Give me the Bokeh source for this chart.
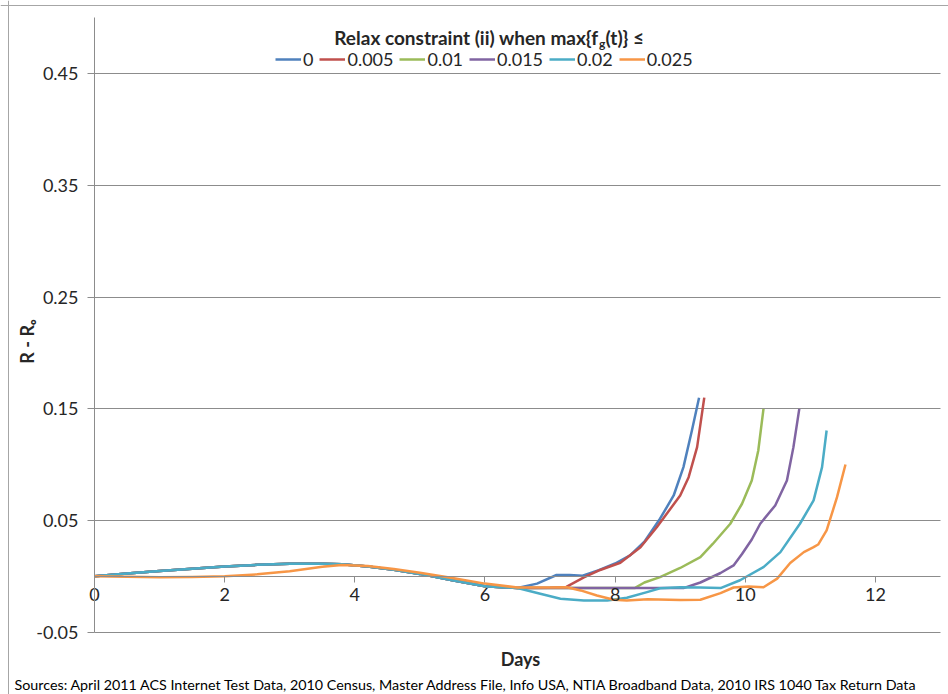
import math
from bokeh.plotting import figure
from bokeh.models import (Range1d, FixedTicker, Legend, LegendItem, Label, LinearAxis, Grid, Span)
from bokeh.embed import file_html
from bokeh.resources import INLINE

# ---- data ----
series_labels = ["0", "0.005", "0.01", "0.015", "0.02", "0.025"]
series_colors = ["#4F81BD", "#C0504D", "#9BBB59", "#8064A2", "#4BACC6", "#F79646"]

x_ticks = [0, 2, 4, 6, 8, 10, 12]
y_ticks = [-0.05, 0.05, 0.15, 0.25, 0.35, 0.45]
y_tick_labels = {-0.05: "-0.05", 0.05: "0.05", 0.15: "0.15", 0.25: "0.25", 0.35: "0.35", 0.45: "0.45"}

days_0 = [0, 0.5, 1, 1.5, 2, 2.5, 3, 3.5, 3.8, 4.2, 4.6, 5, 5.5, 6, 6.5, 6.8, 7.1, 7.3, 7.5, 7.75, 8.0,
          8.23, 8.45, 8.69, 8.9, 9.05, 9.18, 9.29]
r_0 = [0, 0.0025, 0.0048, 0.0068, 0.0088, 0.0103, 0.0113, 0.0113, 0.0108, 0.0088, 0.0058, 0.0022, -0.0035,
       -0.0088, -0.0105, -0.0065, 0.0012, 0.0012, 0.0005, 0.0055, 0.0115, 0.0187, 0.031, 0.0516, 0.0724,
       0.0978, 0.1306, 0.160]

days_005 = [0, 0.5, 1, 1.5, 2, 2.5, 3, 3.5, 3.8, 4.2, 4.6, 5, 5.5, 6, 6.5, 7.0, 7.25, 7.52, 7.77, 8.08,
            8.39, 8.64, 8.85, 9.0, 9.13, 9.26, 9.37]
r_005 = [0, 0.0025, 0.0048, 0.0068, 0.0088, 0.0103, 0.0113, 0.0113, 0.0108, 0.0088, 0.0058, 0.0022, -0.0035,
         -0.0088, -0.0105, -0.0102, -0.0095, -0.0010, 0.0057, 0.0122, 0.026, 0.044, 0.0605, 0.0724, 0.0888,
         0.1157, 0.160]

days_01 = [0, 0.5, 1, 1.5, 2, 2.5, 3, 3.5, 3.8, 4.2, 4.6, 5, 5.5, 6, 6.5, 7.5, 8.3, 8.45, 8.69, 9.0, 9.31,
           9.5, 9.62, 9.77, 9.95, 10.1, 10.2, 10.28]
r_01 = [0, 0.0025, 0.0048, 0.0068, 0.0088, 0.0103, 0.0113, 0.0113, 0.0108, 0.0088, 0.0058, 0.0022, -0.0035,
        -0.0088, -0.0105, -0.0105, -0.0105, -0.0055, -0.0007, 0.0075, 0.0172, 0.029, 0.037, 0.0471, 0.065,
        0.0859, 0.1127, 0.150]

days_015 = [0, 0.5, 1, 1.5, 2, 2.5, 3, 3.5, 3.8, 4.2, 4.6, 5, 5.5, 6, 6.5, 7.5, 9.05, 9.31, 9.62, 9.82,
            9.95, 10.1, 10.23, 10.46, 10.64, 10.74, 10.83]
r_015 = [0, 0.0025, 0.0048, 0.0068, 0.0088, 0.0103, 0.0113, 0.0113, 0.0108, 0.0088, 0.0058, 0.0022, -0.0035,
         -0.0088, -0.0105, -0.0105, -0.0105, -0.0055, 0.003, 0.0098, 0.020, 0.033, 0.0471, 0.0635, 0.0859,
         0.1157, 0.150]

days_02 = [0, 0.5, 1, 1.5, 2, 2.5, 3, 3.5, 3.8, 4.2, 4.6, 5, 5.5, 6, 6.5, 6.85, 7.16, 7.52, 7.88, 8.18,
           8.49, 8.69, 9.0, 9.3, 9.62, 9.92, 10.28, 10.54, 10.84, 11.05, 11.18, 11.25]
r_02 = [0, 0.0025, 0.0048, 0.0068, 0.0088, 0.0103, 0.0113, 0.0113, 0.0108, 0.0088, 0.0058, 0.0022, -0.0035,
        -0.0088, -0.0105, -0.0156, -0.0201, -0.0216, -0.0216, -0.0192, -0.0141, -0.0106, -0.0097, -0.0100,
        -0.0105, -0.0035, 0.0083, 0.0217, 0.0471, 0.068, 0.0978, 0.1306]

days_025 = [0, 0.5, 1, 1.5, 2, 2.5, 3, 3.5, 3.8, 4.2, 4.6, 5, 5.5, 6, 6.5, 7.0, 7.26, 7.47, 7.72, 7.98,
            8.18, 8.5, 9.0, 9.31, 9.62, 9.82, 10.05, 10.28, 10.49, 10.69, 10.9, 11.05, 11.12, 11.25, 11.41, 11.54]
r_025 = [0, -0.0004, -0.0007, -0.0005, 0.0002, 0.0018, 0.0045, 0.0085, 0.0102, 0.0092, 0.0065, 0.0032,
         -0.0015, -0.0065, -0.0100, -0.0100, -0.0097, -0.0126, -0.0171, -0.0210, -0.0216, -0.0205, -0.0212,
         -0.0210, -0.0150, -0.0100, -0.0090, -0.0097, -0.0020, 0.0120, 0.0217, 0.0262, 0.0285, 0.0411,
         0.0709, 0.1002]

all_days = [days_0, days_005, days_01, days_015, days_02, days_025]
all_r = [r_0, r_005, r_01, r_015, r_02, r_025]

FONT = "Lato"
TXT = "#262626"
GRID = "#8c8c8c"

W, H = 948, 694
# frame covers the whole canvas; day 0 sits at 94 px, day 13 at 940 px
PX_PER_DAY = (940 - 94) / 13.0
PX_PER_R = (631.7 - 17.4) / 0.55
ZERO_Y = 17.4 + 0.5 * PX_PER_R


def dx(px):
    return (px - 94) / PX_PER_DAY


def dy(py):
    return (ZERO_Y - py) / PX_PER_R


p = figure(width=W, height=H, output_backend="svg", toolbar_location=None,
           x_range=Range1d(dx(0), dx(W)), y_range=Range1d(dy(H), dy(0)),
           x_axis_type=None, y_axis_type=None,
           min_border_left=0, min_border_right=0, min_border_top=0, min_border_bottom=0)
p.outline_line_color = None
p.background_fill_color = "white"
p.border_fill_color = "white"

# outer chart border (left and top edges)
p.add_layout(Span(location=dx(8), dimension="height", line_color="#a6a6a6", line_width=1))
p.add_layout(Span(location=dy(5), dimension="width", line_color="#a6a6a6", line_width=1))

grid = Grid(dimension=1, ticker=FixedTicker(ticks=y_ticks), bounds=(-0.05, 0.45),
            cross_bounds=(0, 13), grid_line_color=GRID, grid_line_width=1)
p.add_layout(grid)

xa = LinearAxis(fixed_location=0, bounds=(0, 13), ticker=FixedTicker(ticks=x_ticks))
xa.minor_tick_line_color = None
xa.major_tick_in = 0
xa.major_tick_out = 6
xa.major_label_standoff = 6
xa.axis_line_color = GRID
xa.major_tick_line_color = GRID
xa.major_label_text_font = FONT
xa.major_label_text_font_size = "18px"
xa.major_label_text_color = TXT
p.add_layout(xa, "below")

ya = LinearAxis(fixed_location=0, bounds=(-0.05, 0.5), ticker=FixedTicker(ticks=y_ticks))
ya.major_label_overrides = y_tick_labels
ya.minor_tick_line_color = None
ya.major_tick_in = 0
ya.major_tick_out = 7
ya.major_label_standoff = 9
ya.axis_line_color = GRID
ya.major_tick_line_color = GRID
ya.major_label_text_font = FONT
ya.major_label_text_font_size = "18px"
ya.major_label_text_color = TXT
p.add_layout(ya, "left")

items = []
for xs, ys, lab, col in zip(all_days, all_r, series_labels, series_colors):
    r = p.line(xs, ys, line_color=col, line_width=2.5, line_join="round")
    items.append(LegendItem(label=lab, renderers=[r]))

legend = Legend(items=items, orientation="horizontal", location=(275, H - 70),
                glyph_width=26, glyph_height=20, label_width=0, label_height=20,
                label_standoff=2, spacing=6,
                padding=0, margin=0, label_text_font=FONT, label_text_font_size="18px",
                label_text_color=TXT, background_fill_alpha=0, border_line_alpha=0)
p.add_layout(legend)

# legend title with subscript g
anchor_x = dx(598)
title_y = dy(37)
p.add_layout(Label(x=anchor_x, y=title_y, text="Relax constraint (ii) when max{f", text_align="right",
                   text_baseline="middle", text_font=FONT, text_font_style="bold",
                   text_font_size="19px", text_color=TXT))
p.add_layout(Label(x=anchor_x, y=title_y, x_offset=0.5, y_offset=-6, text="g", text_align="left",
                   text_baseline="middle", text_font=FONT, text_font_style="bold",
                   text_font_size="12px", text_color=TXT))
p.add_layout(Label(x=anchor_x, y=title_y, x_offset=7, text="(t)} ≤", text_align="left",
                   text_baseline="middle", text_font=FONT, text_font_style="bold",
                   text_font_size="19px", text_color=TXT))

# axis titles and source note
p.add_layout(Label(x=dx(26), y=dy(341), text="R - Rₒ", angle=math.pi / 2, text_align="center",
                   text_baseline="middle", text_font=FONT, text_font_style="bold",
                   text_font_size="18px", text_color=TXT))
p.add_layout(Label(x=dx(520), y=dy(658), text="Days", text_align="center", text_baseline="middle",
                   text_font=FONT, text_font_style="bold", text_font_size="18px", text_color=TXT))
p.add_layout(Label(x=dx(14), y=dy(684), text="Sources: April 2011 ACS Internet Test Data, 2010  Census, Master Address File, Info USA, NTIA Broadband Data, 2010 IRS 1040  Tax Return Data",
                   text_align="left", text_baseline="middle", text_font=FONT,
                   text_font_size="14.3px", text_color="#000000"))

open("out.html", "w").write(file_html(p, INLINE))
